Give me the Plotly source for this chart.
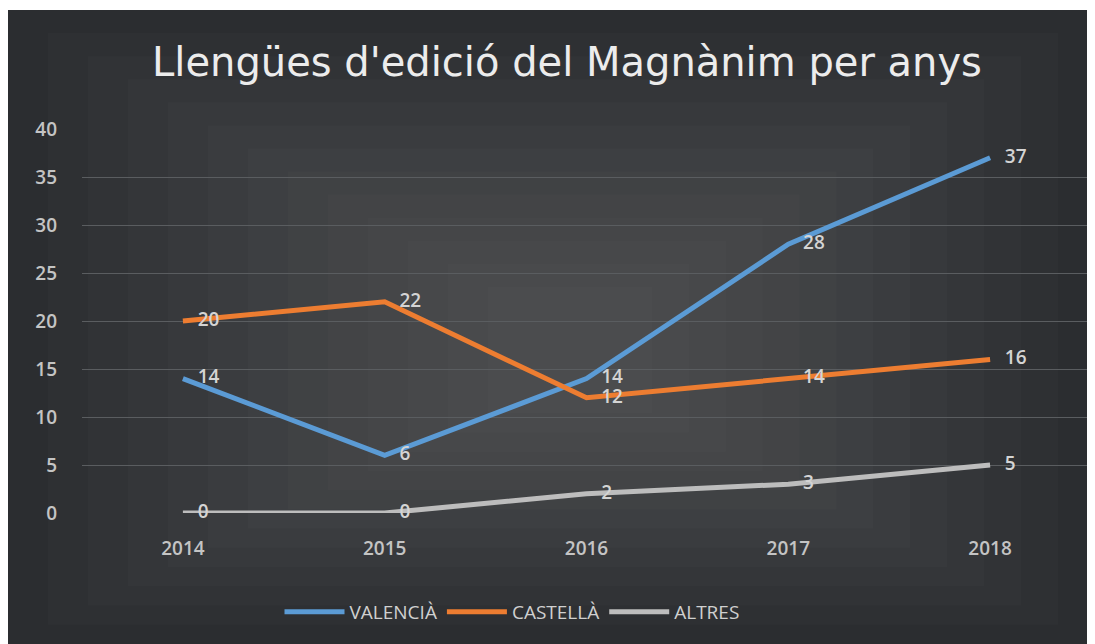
import plotly.graph_objects as go

years = ["2014", "2015", "2016", "2017", "2018"]
valencia = [14, 6, 14, 28, 37]
castella = [20, 22, 12, 14, 16]
altres = [0, 0, 2, 3, 5]
series_names = ["VALENCIÀ", "CASTELLÀ", "ALTRES"]
series_colors = ["#5b9bd5", "#ed7d31", "#bdbdbd"]
y_ticks = [0, 5, 10, 15, 20, 25, 30, 35, 40]

OFF = 8  # page body margin
W, H = 1095, 644
L, R, T, B = 82 - OFF, 1091 - OFF, 129 - OFF, 513 - OFF  # plot area in px
FONT = "Open Sans, Lato, sans-serif"


def px_x(x):
    return (x - OFF - L) / (R - L)


def px_y(y):
    return (B - (y - OFF)) / (B - T)


fig = go.Figure()
for name, vals, col in zip(series_names, [valencia, castella, altres], series_colors):
    fig.add_trace(go.Scatter(
        x=list(range(len(years))), y=vals, name=name,
        mode="lines+markers+text",
        line=dict(color=col, width=5),
        marker=dict(size=22, color="rgba(0,0,0,0)"),
        text=[str(v) for v in vals],
        textposition="middle right",
        textfont=dict(family=FONT, size=19, color="#d4d4d4", weight=600),
        cliponaxis=False,
        hoverinfo="skip",
    ))

shapes = []
shapes.append(dict(type="rect", xref="paper", yref="paper", layer="below",
                   x0=px_x(8), x1=px_x(1110), y0=px_y(660), y1=px_y(10),
                   fillcolor="#2b2d30", line=dict(width=0)))
n = 12
for i in range(1, n + 1):
    f = i / (n + 1)
    x0 = 8 + f * 520
    x1 = 1095 - f * 480
    y0 = 10 + f * 300
    y1 = 644 - f * 250
    shapes.append(dict(type="rect", xref="paper", yref="paper", layer="below",
                       x0=px_x(x0), x1=px_x(x1), y0=px_y(y1), y1=px_y(y0),
                       fillcolor="rgba(255,255,255,0.016)", line=dict(width=0)))

fig.update_layout(
    width=W, height=H,
    paper_bgcolor="white", plot_bgcolor="rgba(0,0,0,0)",
    margin=dict(l=L, r=W - R, t=T, b=H - B),
    shapes=shapes,
    title=dict(text="Llengües d'edició del Magnànim per anys",
               x=(567 - OFF) / W, xanchor="center", y=1 - (62 - OFF) / H, yanchor="middle",
               font=dict(family="DejaVu Sans, Lato, sans-serif", size=40, color="#ececec")),
    xaxis=dict(range=[-0.5, 4.5], tickvals=list(range(len(years))), ticktext=years,
               showgrid=False, zeroline=False, showline=False, ticks="", ticklabelstandoff=22,
               tickfont=dict(family=FONT, size=19, color="#c4c4c4", weight=600)),
    yaxis=dict(range=[0, 40], tickvals=y_ticks, showgrid=True, gridcolor="#5a5d60", gridwidth=1,
               zeroline=False, ticks="", ticklabelstandoff=24,
               tickfont=dict(family=FONT, size=19, color="#c4c4c4", weight=600)),
    legend=dict(orientation="h", x=px_x(512), xanchor="center", y=px_y(612), yanchor="middle",
                bgcolor="rgba(0,0,0,0)", itemwidth=60,
                font=dict(family=FONT, size=19, color="#d0d0d0")),
    showlegend=True,
)

fig.write_html("out.html")
